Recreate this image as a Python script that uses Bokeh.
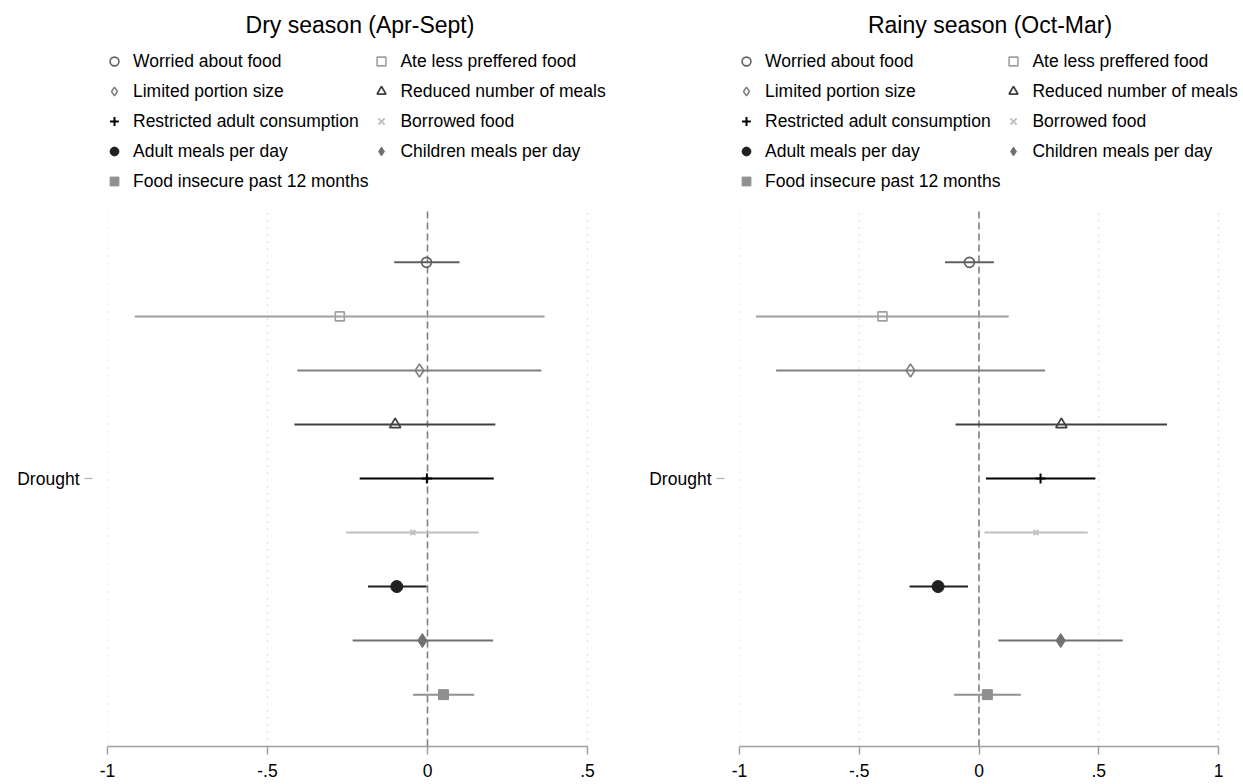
from bokeh.plotting import figure
from bokeh.models import Range1d, FixedTicker, Legend, LegendItem
from bokeh.layouts import row
from bokeh.embed import file_html
from bokeh.resources import INLINE

labels = ["Worried about food", "Ate less preffered food", "Limited portion size",
          "Reduced number of meals", "Restricted adult consumption", "Borrowed food",
          "Adult meals per day", "Children meals per day", "Food insecure past 12 months"]
category = "Drought"

dry_coef = [-0.003, -0.274, -0.025, -0.101, -0.002, -0.046, -0.096, -0.016, 0.050]
dry_lo = [-0.104, -0.915, -0.407, -0.416, -0.212, -0.254, -0.186, -0.234, -0.045]
dry_hi = [0.100, 0.366, 0.356, 0.212, 0.207, 0.160, -0.003, 0.205, 0.146]

rainy_coef = [-0.040, -0.403, -0.286, 0.344, 0.257, 0.238, -0.171, 0.341, 0.035]
rainy_lo = [-0.142, -0.931, -0.847, -0.098, 0.029, 0.023, -0.290, 0.081, -0.104]
rainy_hi = [0.062, 0.124, 0.276, 0.785, 0.486, 0.454, -0.046, 0.600, 0.175]

dry_ticks = [-1, -0.5, 0, 0.5]
rainy_ticks = [-1, -0.5, 0, 0.5, 1]
tick_text = {-1: "-1", -0.5: "-.5", 0: "0", 0.5: ".5", 1: "1"}

# styles
colors = ["#606060", "#a0a0a0", "#808080", "#404040", "#000000", "#c0c0c0", "#202020", "#707070", "#909090"]
markers = ["circle", "square", "diamond", "triangle", "cross", "x", "circle", "diamond", "square"]
filled = [False, False, False, False, False, False, True, True, True]
sizes = [10, 9, 13, 11, 10, 7, 12, 14, 10]
mlw = [1.6, 1.6, 1.6, 1.8, 2, 2, 1, 1, 1]

FONT = "Liberation Sans"
FIG_H = 784
FRAME_TOP = 47
DATA_TOP = 210
FRAME_BOTTOM = 746
LEG_ROW = 28
LEG_SP = 2


def make_panel(title, coef, lo, hi, ticks, width, bl, data_w, extra_w):
    n = len(coef)
    half = (n - 1) / 2
    ylim = half + 0.96
    unit = (FRAME_BOTTOM - DATA_TOP) / (2 * ylim)
    y_top = ylim + (DATA_TOP - FRAME_TOP) / unit
    x_end = ticks[-1] + extra_w * (ticks[-1] - ticks[0]) / data_w
    p = figure(width=width, height=FIG_H, x_range=Range1d(ticks[0], x_end),
               y_range=Range1d(-ylim, y_top), title=title,
               output_backend="svg", toolbar_location=None,
               min_border_left=bl, min_border_right=width - bl - data_w - extra_w,
               min_border_top=FRAME_TOP, min_border_bottom=FIG_H - FRAME_BOTTOM)
    p.outline_line_color = None
    p.background_fill_color = "white"
    p.border_fill_color = "white"
    p.title.align = "center"
    p.title.offset = -extra_w / 2
    p.title.text_font = FONT
    p.title.text_font_size = "23px"
    p.title.text_font_style = "normal"
    p.title.text_color = "#000000"
    p.title.standoff = 19

    # x axis
    p.xaxis.bounds = (ticks[0], ticks[-1])
    p.xaxis.ticker = FixedTicker(ticks=ticks)
    p.xaxis.major_label_overrides = {t: tick_text[t] for t in ticks}
    p.xaxis.axis_line_color = "#a0a0a0"
    p.xaxis.axis_line_width = 1.5
    p.xaxis.major_tick_line_color = "#a0a0a0"
    p.xaxis.major_tick_line_width = 1.5
    p.xaxis.major_tick_out = 8
    p.xaxis.major_tick_in = 0
    p.xaxis.minor_tick_line_color = None
    p.xaxis.major_label_text_font = FONT
    p.xaxis.major_label_text_font_size = "17.5px"
    p.xaxis.major_label_text_color = "#000000"
    p.xaxis.major_label_standoff = 9

    # y axis
    p.yaxis.ticker = FixedTicker(ticks=[0])
    p.yaxis.major_label_overrides = {0: category}
    p.yaxis.axis_line_color = None
    p.yaxis.minor_tick_line_color = None
    p.yaxis.major_tick_line_color = "#b4b4b4"
    p.yaxis.major_tick_line_width = 1.2
    p.yaxis.major_tick_in = -15
    p.yaxis.major_tick_out = 23
    p.yaxis.major_label_standoff = 5
    p.yaxis.major_label_text_font = FONT
    p.yaxis.major_label_text_font_size = "17.5px"
    p.yaxis.major_label_text_color = "#000000"

    p.xgrid.visible = False
    p.ygrid.visible = False

    # dotted grid lines and dashed zero line, limited to the plot region
    p.segment(x0=ticks, x1=ticks, y0=[-ylim] * len(ticks), y1=[ylim] * len(ticks),
              line_color="#b8b8b8", line_width=1, line_dash="1 6")
    p.segment(x0=[0], x1=[0], y0=[-ylim], y1=[ylim], line_color="#808080",
              line_width=1.6, line_dash="7 4")

    items = []
    for i in range(n):
        y = half - i
        p.segment(x0=[lo[i]], x1=[hi[i]], y0=[y], y1=[y], line_color=colors[i], line_width=2)
    for i in range(n):
        y = half - i
        r = p.scatter(x=[coef[i]], y=[y], marker=markers[i], size=sizes[i],
                      line_color=colors[i], line_width=mlw[i],
                      fill_color=colors[i] if filled[i] else None)
        items.append(LegendItem(label=labels[i], renderers=[r]))

    nrows = (n + 1) // 2
    order = list(range(0, n, 2)) + list(range(1, n, 2))
    leg_h = nrows * LEG_ROW + (nrows - 1) * LEG_SP
    frame_h = FRAME_BOTTOM - FRAME_TOP
    leg = Legend(items=[items[k] for k in order], ncols=2, location=(-4, frame_h - leg_h),
                 margin=0, padding=0, spacing=LEG_SP, glyph_width=22, glyph_height=LEG_ROW,
                 label_height=LEG_ROW, label_standoff=8, label_text_font=FONT,
                 label_text_font_size="17.5px", label_text_color="#000000",
                 border_line_color=None, background_fill_alpha=0)
    p.add_layout(leg, "center")
    return p


p1 = make_panel("Dry season (Apr-Sept)", dry_coef, dry_lo, dry_hi, dry_ticks, 620, 107, 480, 25)
p2 = make_panel("Rainy season (Oct-Mar)", rainy_coef, rainy_lo, rainy_hi, rainy_ticks, 620, 119, 479, 22)

layout = row(p1, p2)
open("out.html", "w").write(file_html(layout, INLINE))
